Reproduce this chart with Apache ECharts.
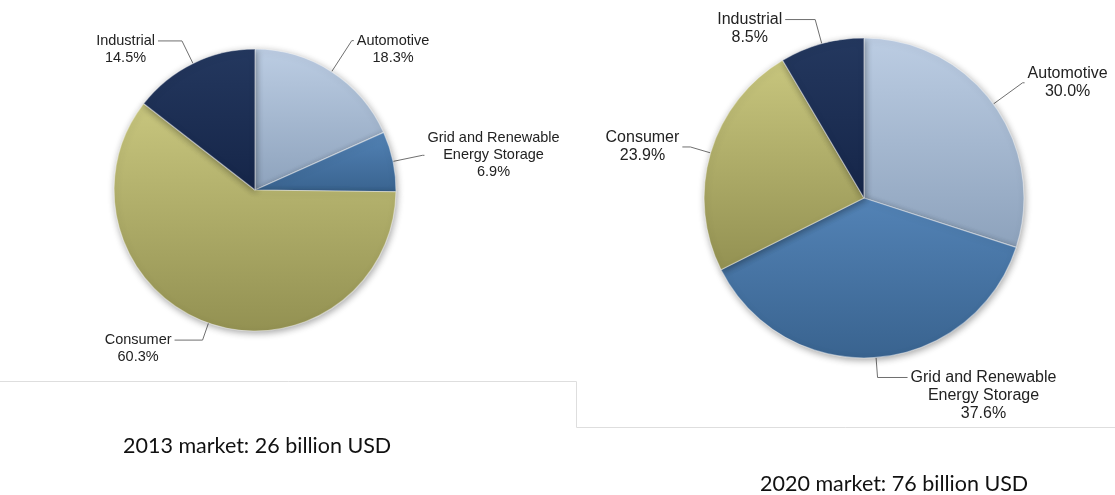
<!DOCTYPE html>
<html>
<head>
<meta charset="utf-8">
<script src="https://cdn.jsdelivr.net/npm/echarts@6/dist/echarts.min.js"></script>
<style>
html,body{margin:0;padding:0;background:#fff;}
#chart{width:1115px;height:495px;}
</style>
</head>
<body>
<div id="chart"></div>
<script>
// ---- data ----
var categories = ['Automotive', 'Grid and Renewable\nEnergy Storage', 'Consumer', 'Industrial'];
var values2013 = [18.3, 6.9, 60.3, 14.5];
var values2020 = [30.0, 37.6, 23.9, 8.5];
var caption2013 = '2013 market: 26 billion USD';
var caption2020 = '2020 market: 76 billion USD';

// ---- styles ----
var gradients = [
  ['#bccde3', '#8da2bc'],
  ['#5383b6', '#39638f'],
  ['#c8c67e', '#939152'],
  ['#24385f', '#152548']
];
// label line tweaks per slice: [length, length2, firstLineAnchored]
var lineCfg2013 = [[37, 2, true], [30, 2, false], [18, 28, true], [25, 24, true]];
var lineCfg2020 = [[36, 2, false], [20, 30, true], [21, 8, false], [25, 30, true]];

function fmtLabel(p) {
  var lines = p.name.split('\n');
  lines.push(p.value.toFixed(1) + '%');
  return lines.map(function (l) { return '{c|' + l + '}'; }).join('\n');
}

function buildData(values, cfg, lh) {
  return values.map(function (v, i) {
    var nLines = categories[i].split('\n').length + 1;
    return {
      name: categories[i],
      value: v,
      itemStyle: {
        color: new echarts.graphic.LinearGradient(0, 0, 0, 1, [
          { offset: 0, color: gradients[i][0] },
          { offset: 1, color: gradients[i][1] }
        ])
      },
      label: { padding: [cfg[i][2] ? (nLines - 1) * lh : 0, 0, 0, 0] },
      labelLine: { length: cfg[i][0], length2: cfg[i][1] }
    };
  });
}

function pieSeries(values, cfg, center, radius, fontSize, lh) {
  return {
    type: 'pie',
    center: center,
    radius: radius,
    startAngle: 90,
    clockwise: true,
    avoidLabelOverlap: false,
    animation: false,
    silent: true,
    itemStyle: {
      borderColor: 'rgba(255,255,255,0.45)',
      borderWidth: 1.2,
      shadowBlur: 7,
      shadowColor: 'rgba(0,0,0,0.35)',
      shadowOffsetX: 1,
      shadowOffsetY: 2
    },
    label: {
      show: true,
      position: 'outside',
      formatter: fmtLabel,
      overflow: 'none',
      bleedMargin: 0,
      distanceToLabelLine: 3,
      color: '#222',
      fontFamily: '"Liberation Sans", Arial, sans-serif',
      fontSize: fontSize,
      lineHeight: lh,
      rich: {
        c: {
          align: 'center',
          color: '#222',
          fontFamily: '"Liberation Sans", Arial, sans-serif',
          fontSize: fontSize,
          lineHeight: lh
        }
      }
    },
    labelLine: {
      show: true,
      smooth: false,
      lineStyle: { color: '#6f6f6f', width: 1 }
    },
    data: buildData(values, cfg, lh)
  };
}

var chart = echarts.init(document.getElementById('chart'), null, { renderer: 'canvas' });
chart.setOption({
  backgroundColor: '#ffffff',
  graphic: [
    {
      type: 'polyline',
      shape: { points: [[0, 381.5], [576.5, 381.5], [576.5, 427.5], [1115, 427.5]] },
      style: { stroke: '#dedede', lineWidth: 1, fill: null },
      silent: true
    },
    {
      type: 'text', left: 123, top: 435,
      style: { text: caption2013, font: '21.5px Lato, "Open Sans", sans-serif', fill: '#111' }
    },
    {
      type: 'text', left: 760, top: 473,
      style: { text: caption2020, font: '21.5px Lato, "Open Sans", sans-serif', fill: '#111' }
    }
  ],
  series: [
    pieSeries(values2013, lineCfg2013, [255, 190], 141, 14.5, 17),
    pieSeries(values2020, lineCfg2020, [864, 198], 160, 16, 18)
  ]
});
</script>
</body>
</html>
